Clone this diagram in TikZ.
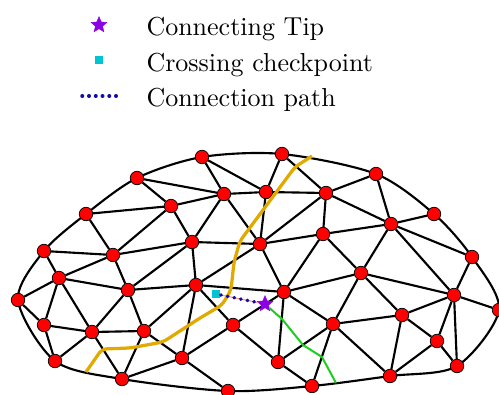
\documentclass[tikz,border=0pt]{standalone}
\usepackage{amsmath}
\usepackage{xcolor}
\usepackage{tikz}
\usetikzlibrary{shapes.geometric,backgrounds}

\definecolor{tipviolet}{RGB}{140,0,230}
\definecolor{checkcyan}{RGB}{0,196,212}
\definecolor{pathblue}{RGB}{20,10,170}
\definecolor{pathpeach}{RGB}{250,170,130}
\definecolor{routegold}{RGB}{224,170,0}
\definecolor{routegreen}{RGB}{30,205,30}

\tikzset{
  vtx/.style={circle,fill=red,draw=black,line width=0.3pt,minimum size=5.4pt,inner sep=0pt},
  mesh/.style={line width=0.85pt,line join=round},
  tipstar/.style={star,star points=5,star point ratio=2.2,fill=tipviolet,draw=tipviolet,line width=0.2pt,minimum size=6.6pt,inner sep=0pt},
  checksq/.style={rectangle,fill=checkcyan,minimum size=3.4pt,inner sep=0pt},
  linkdots/.style={pathblue,line width=1.4pt,line cap=round,dash pattern=on 0.2pt off 2.5pt},
  legendtext/.style={anchor=base west,inner sep=0pt,font=\fontsize{10.4}{12}\selectfont}
}

\begin{document}
\begin{tikzpicture}[x=0.4pt,y=0.4pt,yscale=-1,xscale=1]
\useasboundingbox (0,0) rectangle (499,394);

%Legend
\node[tipstar] (legtip) at (99,25) {};
\node[checksq] (legsq) at (99,60) {};
\coordinate (legA) at (82,96);
\coordinate (legB) at (117,96);
\draw[linkdots] (legA) -- (legB);
% Text Node
\node[legendtext] (txttip) at (146,35) {Connecting Tip};
% Text Node
\node[legendtext] (txtsq) at (146,71) {Crossing checkpoint};
% Text Node
\node[legendtext] (txtpath) at (146,106) {Connection path};

%Boundary vertices
\node[vtx] (b1) at (202,157) {};
\node[vtx] (b2) at (282,154) {};
\node[vtx] (b3) at (376,174) {};
\node[vtx] (b4) at (434,214) {};
\node[vtx] (b5) at (472,257) {};
\node[vtx] (b6) at (499,310) {};
\node[vtx] (b7) at (457,366) {};
\node[vtx] (b8) at (390,376) {};
\node[vtx] (b9) at (312,386) {};
\node[vtx] (b10) at (228,391) {};
\node[vtx] (b11) at (122,379) {};
\node[vtx] (b12) at (55,361) {};
\node[vtx] (b13) at (18,300) {};
\node[vtx] (b14) at (44,251) {};
\node[vtx] (b15) at (86,214) {};
\node[vtx] (b16) at (137,178) {};

%Inner vertices
\node[vtx] (v1) at (171,206) {};
\node[vtx] (v2) at (224,194) {};
\node[vtx] (v3) at (266,192) {};
\node[vtx] (v4) at (326,193) {};
\node[vtx] (v5) at (113,255) {};
\node[vtx] (v6) at (192,242) {};
\node[vtx] (v7) at (260,244) {};
\node[vtx] (v8) at (323,234) {};
\node[vtx] (v9) at (391,224) {};
\node[vtx] (v10) at (59,278) {};
\node[vtx] (v11) at (128,290) {};
\node[vtx] (v12) at (196,285) {};
\node[vtx] (v13) at (284,292) {};
\node[vtx] (v14) at (361,273) {};
\node[vtx] (v15) at (454,295) {};
\node[vtx] (v16) at (44,325) {};
\node[vtx] (v17) at (92,332) {};
\node[vtx] (v18) at (144,331) {};
\node[vtx] (v19) at (233,325) {};
\node[vtx] (v20) at (333,324) {};
\node[vtx] (v21) at (402,315) {};
\node[vtx] (v22) at (437,341) {};
\node[vtx] (v23) at (182,358) {};
\node[vtx] (v24) at (278,362) {};

\begin{pgfonlayer}{background}
%Outline
\draw[mesh] plot[smooth cycle] coordinates {(b1.center) (b2.center) (b3.center) (b4.center) (b5.center) (b6.center) (b7.center) (b8.center) (b9.center) (b10.center) (b11.center) (b12.center) (b13.center) (b14.center) (b15.center) (b16.center)};
%Straight Lines
\draw[mesh] (b1) -- (v2) (b1) -- (v3) (b2) -- (v3) (b2) -- (v4) (b3) -- (v4) (b3) -- (v9);
\draw[mesh] (b4) -- (v9) (b5) -- (v9) (b5) -- (v15) (b6) -- (v15) (b7) -- (v15) (b7) -- (v22);
\draw[mesh] (b8) -- (v20) (b8) -- (v21) (b8) -- (v22) (b9) -- (v20) (b9) -- (v24) (b10) -- (v23);
\draw[mesh] (b11) -- (v17) (b11) -- (v18) (b11) -- (v23) (b12) -- (v16) (b12) -- (v17);
\draw[mesh] (b13) -- (v10) (b13) -- (v16) (b14) -- (v5) (b14) -- (v10) (b15) -- (v1) (b15) -- (v5);
\draw[mesh] (b16) -- (v1) (b16) -- (v2);
%Straight Lines
\draw[mesh] (v1) -- (v2) (v1) -- (v5) (v1) -- (v6) (v2) -- (v3) (v2) -- (v6) (v2) -- (v7);
\draw[mesh] (v3) -- (v4) (v3) -- (v7) (v4) -- (v7) (v4) -- (v8) (v4) -- (v9);
\draw[mesh] (v5) -- (v6) (v5) -- (v10) (v5) -- (v11) (v6) -- (v7) (v6) -- (v11) (v6) -- (v12);
\draw[mesh] (v7) -- (v8) (v7) -- (v12) (v7) -- (v13) (v8) -- (v9) (v8) -- (v13) (v8) -- (v14);
\draw[mesh] (v9) -- (v14) (v9) -- (v15) (v10) -- (v11) (v10) -- (v16) (v10) -- (v17);
\draw[mesh] (v11) -- (v12) (v11) -- (v17) (v11) -- (v18);
\draw[mesh] (v12) -- (v13) (v12) -- (v18) (v12) -- (v19) (v12) -- (v23);
\draw[mesh] (v13) -- (v14) (v13) -- (v19) (v13) -- (v20) (v13) -- (v24);
\draw[mesh] (v14) -- (v15) (v14) -- (v20) (v14) -- (v21) (v15) -- (v21) (v15) -- (v22);
\draw[mesh] (v16) -- (v17) (v17) -- (v18) (v18) -- (v23) (v19) -- (v23) (v19) -- (v24);
\draw[mesh] (v20) -- (v21) (v20) -- (v24) (v21) -- (v22);
\end{pgfonlayer}

%Crossing route
\draw[routegold,line width=1.3pt,line join=round,rounded corners=2pt] (312,156) -- (295,167) -- (240,241) -- (234,262) -- (231,290) -- (222,305) -- (200,318) -- (163,342) -- (130,348) -- (102,349) -- (86,372);

%Checkpoint and tip
\node[checksq] (check) at (216,294) {};
\node[tipstar] (tip) at (265,304) {};
\coordinate (greenend) at (336,383);
\draw[routegreen,line width=0.8pt,line join=round] (tip) -- (282,319) -- (303,345) -- (322,357) -- (greenend);
\draw[pathpeach,line width=0.5pt] (check) -- (tip);
\draw[linkdots] (check) -- (tip);
\end{tikzpicture}
\end{document}
